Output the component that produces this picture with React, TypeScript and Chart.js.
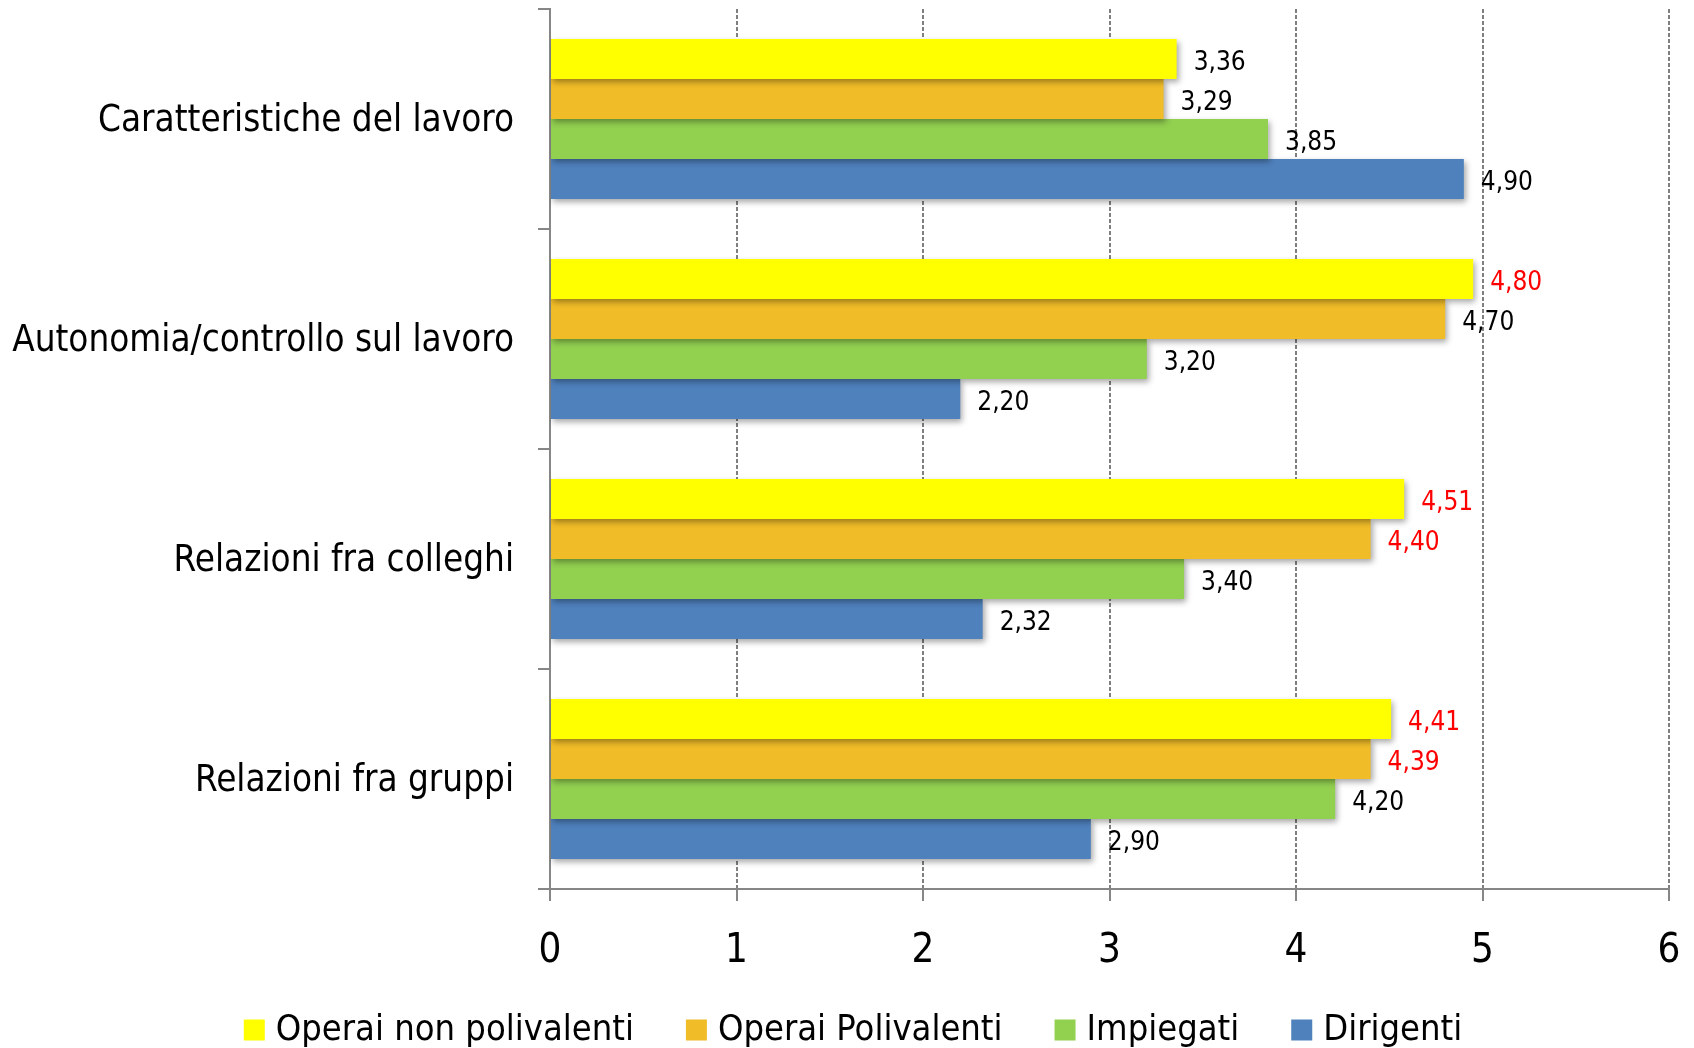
import React, { useEffect, useRef } from "react";
import { Chart, registerables } from "chart.js";

Chart.register(...registerables);

// ---- Data ----
const categories = [
  "Caratteristiche del lavoro",
  "Autonomia/controllo sul lavoro",
  "Relazioni fra colleghi",
  "Relazioni fra gruppi",
];

const seriesNames = ["Operai non polivalenti", "Operai Polivalenti", "Impiegati", "Dirigenti"];

// bar lengths as drawn in the picture
const operaiNonPolivalenti = [3.36, 4.95, 4.58, 4.51];
const operaiPolivalenti = [3.29, 4.8, 4.4, 4.4];
const impiegati = [3.85, 3.2, 3.4, 4.21];
const dirigenti = [4.9, 2.2, 2.32, 2.9];

// value labels as printed in the picture
const labelsOperaiNonPolivalenti = ["3,36", "4,80", "4,51", "4,41"];
const labelsOperaiPolivalenti = ["3,29", "4,70", "4,40", "4,39"];
const labelsImpiegati = ["3,85", "3,20", "3,40", "4,20"];
const labelsDirigenti = ["4,90", "2,20", "2,32", "2,90"];

// labels highlighted in red
const highlightOperaiNonPolivalenti = [false, true, true, true];
const highlightOperaiPolivalenti = [false, false, true, true];
const highlightImpiegati = [false, false, false, false];
const highlightDirigenti = [false, false, false, false];

const xTicks = [0, 1, 2, 3, 4, 5, 6];

// ---- Styles ----
const FONT = '"DejaVu Sans Condensed", "DejaVu Sans", sans-serif';
const COLORS = ["#FFFF00", "#F0BC28", "#92D050", "#4F81BD"];
const AXIS_GREY = "#868686";
const GRID_GREY = "#7F7F7F";

export default function App() {
  const ref = useRef<HTMLCanvasElement>(null);

  useEffect(() => {
    const canvas = ref.current;
    if (!canvas) return;
    const seriesValues = [operaiNonPolivalenti, operaiPolivalenti, impiegati, dirigenti];
    const seriesLabels = [labelsOperaiNonPolivalenti, labelsOperaiPolivalenti, labelsImpiegati, labelsDirigenti];
    const seriesHighlight = [
      highlightOperaiNonPolivalenti,
      highlightOperaiPolivalenti,
      highlightImpiegati,
      highlightDirigenti,
    ];

    const barDecor = {
      id: "barDecor",
      beforeDatasetsDraw(chart: any) {
        const ctx = chart.ctx;
        ctx.save();
        ctx.shadowColor = "rgba(0,0,0,0.35)";
        ctx.shadowBlur = 6;
        ctx.shadowOffsetX = 2;
        ctx.shadowOffsetY = 3;
      },
      afterDatasetsDraw(chart: any) {
        const ctx = chart.ctx;
        ctx.restore();
        ctx.save();
        ctx.font = `26px ${FONT}`;
        ctx.textAlign = "left";
        ctx.textBaseline = "middle";
        chart.data.datasets.forEach((_ds: any, di: number) => {
          const meta = chart.getDatasetMeta(di);
          meta.data.forEach((el: any, i: number) => {
            ctx.fillStyle = seriesHighlight[di][i] ? "#FF0000" : "#000000";
            ctx.fillText(seriesLabels[di][i], el.x + 17, el.y + 4);
          });
        });
        ctx.restore();
      },
    };

    const customLegend = {
      id: "customLegend",
      afterDraw(chart: any) {
        const ctx = chart.ctx;
        ctx.save();
        ctx.font = `36px ${FONT}`;
        ctx.textBaseline = "middle";
        ctx.textAlign = "left";
        const box = 21;
        const gapBoxText = 11;
        const gapItems = 52;
        const widths = chart.data.datasets.map((ds: any) => ctx.measureText(ds.label).width);
        const total =
          widths.reduce((a: number, b: number) => a + b, 0) +
          chart.data.datasets.length * (box + gapBoxText) +
          (chart.data.datasets.length - 1) * gapItems;
        let x = (chart.width - total) / 2 + 6;
        const cy = 1030;
        chart.data.datasets.forEach((ds: any, i: number) => {
          ctx.fillStyle = ds.backgroundColor;
          ctx.fillRect(x, cy - box / 2, box, box);
          x += box + gapBoxText;
          ctx.fillStyle = "#000";
          ctx.fillText(ds.label, x, cy + 1);
          x += widths[i] + gapItems;
        });
        ctx.restore();
      },
    };

    const chart = new Chart(canvas, {
      type: "bar",
      data: {
        labels: categories,
        datasets: seriesNames.map((name, i) => ({
          label: name,
          data: seriesValues[i],
          backgroundColor: COLORS[i],
          borderWidth: 0,
          barPercentage: 1,
          categoryPercentage: 0.727,
        })),
      },
      options: {
        responsive: false,
        animation: false,
        indexAxis: "y",
        layout: { padding: { left: 0, top: 9, right: 25, bottom: 59 } },
        plugins: {
          legend: { display: false },
          tooltip: { enabled: false },
        },
        scales: {
          x: {
            type: "linear",
            min: xTicks[0],
            max: xTicks[xTicks.length - 1],
            afterBuildTicks: (scale: any) => {
              scale.ticks = xTicks.map((v) => ({ value: v }));
            },
            ticks: {
              color: "#000",
              font: { family: FONT, size: 40 },
              padding: 27,
              callback: (v: any) => String(v),
            },
            grid: {
              color: GRID_GREY,
              lineWidth: 2,
              drawTicks: true,
              tickLength: 12,
              tickWidth: 2,
              tickColor: AXIS_GREY,
              tickBorderDash: [],
            },
            border: { display: true, color: AXIS_GREY, width: 2, dash: [4, 2] },
            afterFit: (scale: any) => {
              scale.height = 100;
              scale.paddingLeft = 0;
              scale.paddingRight = 0;
            },
          },
          y: {
            type: "category",
            offset: true,
            ticks: {
              color: "#000",
              font: { family: FONT, size: 36.5 },
              padding: 24,
              labelOffset: 3,
            },
            grid: {
              offset: true,
              drawOnChartArea: false,
              drawTicks: true,
              tickLength: 12,
              color: AXIS_GREY,
              lineWidth: 2,
            },
            border: { display: true, color: AXIS_GREY, width: 2 },
            afterFit: (scale: any) => {
              scale.width = 550;
              scale.paddingTop = 0;
              scale.paddingBottom = 0;
            },
          },
        },
      } as any,
      plugins: [barDecor, customLegend],
    });

    return () => chart.destroy();
  }, []);

  return (
    <div style={{ position: "absolute", left: 0, top: 0, width: 1694, height: 1048, background: "#fff" }}>
      <canvas ref={ref} width={1694} height={1048} style={{ display: "block" }} />
    </div>
  );
}
